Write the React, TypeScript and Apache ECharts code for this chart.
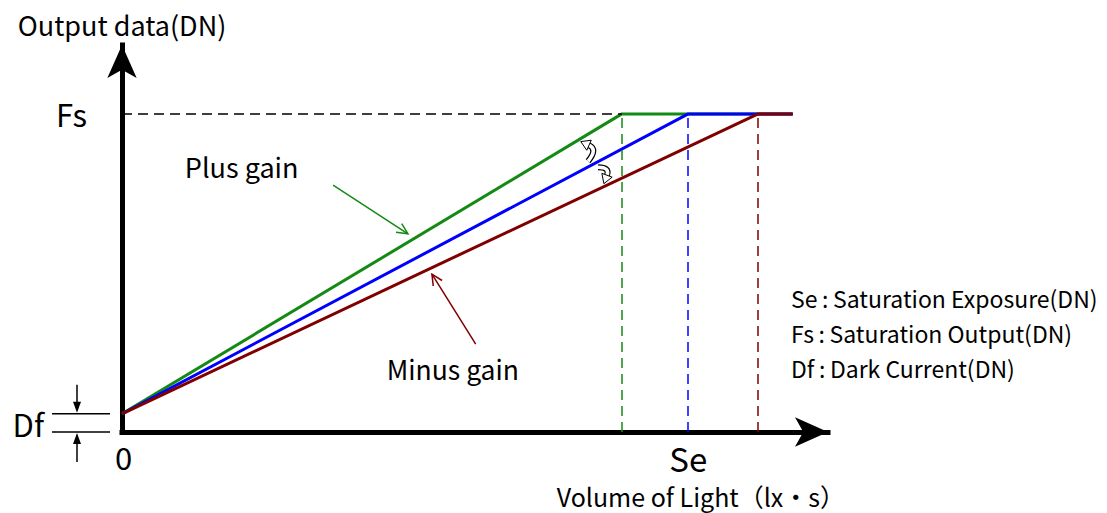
import React, { useEffect, useRef } from "react";
import * as echarts from "echarts";

// ---- data ----
const X_MAX = 100;
const Y_MAX = 100;
const DARK_CURRENT = 4.7; // Df
const SATURATION_OUTPUT = 82.2; // Fs
const GAIN_NAMES = ["Plus gain", "Normal gain", "Minus gain"];
const GAIN_COLORS = ["#138a13", "#0000ff", "#800000"];
const SATURATION_EXPOSURE = [70.8, 80.2, 90.1];
const X_END = 95.0;
const X_TICK_VALUES = [0, 80.2];
const X_TICK_LABELS = ["0", "Se"];
const Y_TICK_VALUES = [DARK_CURRENT, SATURATION_OUTPUT];
const Y_TICK_LABELS = ["Df", "Fs"];
const NOTES = [
  "Se\u2009:\u2009Saturation Exposure(DN)",
  "Fs\u2009:\u2009Saturation Output(DN)",
  "Df\u2009:\u2009Dark Current(DN)",
];

const FONT = '"Noto Sans CJK JP", "Noto Sans", sans-serif';

export default function App() {
  const ref = useRef<HTMLDivElement>(null);
  useEffect(() => {
    const el = ref.current!;
    const chart = echarts.init(el, null, { renderer: "svg" });

    const series = GAIN_NAMES.map((name, i) => {
      const se = SATURATION_EXPOSURE[i];
      const ml: any[] = [[{ coord: [se, 0] }, { coord: [se, SATURATION_OUTPUT] }]];
      if (i === 0) {
        ml.push([
          { coord: [0, SATURATION_OUTPUT], lineStyle: { color: "#000", type: [10, 6], width: 1.5 } },
          { coord: [se, SATURATION_OUTPUT] },
        ]);
      }
      return {
        name,
        type: "line",
        symbol: "none",
        silent: true,
        z: 3 + i,
        data: [
          [0, DARK_CURRENT],
          [se, SATURATION_OUTPUT],
          [X_END, SATURATION_OUTPUT],
        ],
        lineStyle: { color: GAIN_COLORS[i], width: 3 },
        itemStyle: { color: GAIN_COLORS[i] },
        markLine: {
          silent: true,
          symbol: "none",
          animation: false,
          label: { show: false },
          lineStyle: { color: GAIN_COLORS[i], type: [10, 6], width: 1.5 },
          data: ml,
        },
      };
    });

    chart.setOption({
      animation: false,
      grid: { left: 122, top: 45, width: 706, height: 387 },
      xAxis: {
        type: "value",
        min: 0,
        max: X_MAX,
        splitLine: { show: false },
        axisTick: { show: false },
        axisLine: {
          show: true,
          symbol: ["none", "arrow"],
          symbolSize: [22, 33],
          lineStyle: { color: "#000", width: 5, cap: "square" },
        },
        axisLabel: {
          customValues: X_TICK_VALUES,
          margin: 9,
          color: "#000",
          formatter: (v: number) => {
            const idx = X_TICK_VALUES.indexOf(v);
            const t = idx >= 0 ? X_TICK_LABELS[idx] : "";
            return idx === 0 ? `{a|${t}}` : `{b|${t}}`;
          },
          rich: {
            a: { fontSize: 31, fontFamily: FONT, color: "#000", padding: [0, 0, 0, 3] },
            b: { fontSize: 33, fontFamily: FONT, color: "#000" },
          },
        },
        name: "Volume of Light（lx・s）",
        nameLocation: "end",
        nameGap: 17,
        nameTextStyle: {
          fontSize: 25,
          fontFamily: FONT,
          color: "#000",
          align: "right",
          verticalAlign: "top",
          padding: [51, 0, 0, 0],
        },
      },
      yAxis: {
        type: "value",
        min: 0,
        max: Y_MAX,
        splitLine: { show: false },
        axisTick: { show: false },
        axisLine: {
          show: true,
          symbol: ["none", "arrow"],
          symbolSize: [22, 33],
          lineStyle: { color: "#000", width: 5, cap: "square" },
        },
        axisLabel: {
          customValues: Y_TICK_VALUES,
          margin: 35,
          color: "#000",
          formatter: (v: number) => {
            const idx = Y_TICK_VALUES.indexOf(v);
            const t = idx >= 0 ? Y_TICK_LABELS[idx] : "";
            return idx === 0 ? `{d|${t}}` : `{f|${t}}`;
          },
          rich: {
            d: { fontSize: 31, fontFamily: FONT, color: "#000", padding: [19, 43, 0, 0] },
            f: { fontSize: 31, fontFamily: FONT, color: "#000" },
          },
        },
        name: "Output data(DN)",
        nameLocation: "end",
        nameGap: 7,
        nameTextStyle: { fontSize: 27, fontFamily: FONT, color: "#000" },
      },
      series,
    });

    const p = (x: number, y: number) => chart.convertToPixel({ gridIndex: 0 }, [x, y]) as number[];
    const g: any[] = [];

    // Df marker
    const yDf = p(0, DARK_CURRENT)[1];
    const y0 = p(0, 0)[1];
    const mx = 77;
    g.push({ type: "line", shape: { x1: 52, y1: yDf, x2: 110, y2: yDf }, style: { stroke: "#000", lineWidth: 1.5 } });
    g.push({ type: "line", shape: { x1: 52, y1: y0, x2: 110, y2: y0 }, style: { stroke: "#000", lineWidth: 1.5 } });
    g.push({ type: "line", shape: { x1: mx, y1: yDf - 29, x2: mx, y2: yDf - 8 }, style: { stroke: "#000", lineWidth: 1.5 } });
    g.push({ type: "polygon", shape: { points: [[mx - 4, yDf - 12], [mx + 4, yDf - 12], [mx, yDf - 1]] }, style: { fill: "#000" } });
    g.push({ type: "line", shape: { x1: mx, y1: y0 + 30, x2: mx, y2: y0 + 8 }, style: { stroke: "#000", lineWidth: 1.5 } });
    g.push({ type: "polygon", shape: { points: [[mx - 4, y0 + 12], [mx + 4, y0 + 12], [mx, y0 + 1]] }, style: { fill: "#000" } });

    // annotation arrows (data coordinates)
    const arrow = (from: number[], to: number[], color: string) => {
      const a = p(from[0], from[1]);
      const b = p(to[0], to[1]);
      const ang = Math.atan2(b[1] - a[1], b[0] - a[0]);
      const L = 12;
      const w1 = [b[0] - L * Math.cos(ang - 0.45), b[1] - L * Math.sin(ang - 0.45)];
      const w2 = [b[0] - L * Math.cos(ang + 0.45), b[1] - L * Math.sin(ang + 0.45)];
      g.push({ type: "line", shape: { x1: a[0], y1: a[1], x2: b[0], y2: b[1] }, style: { stroke: color, lineWidth: 1.5 } });
      g.push({ type: "polyline", shape: { points: [w1, b, w2] }, style: { stroke: color, lineWidth: 1.5, fill: null } });
    };
    arrow([29.9, 63.8], [40.5, 51.2], GAIN_COLORS[0]);
    arrow([50.1, 22.7], [43.9, 40.8], GAIN_COLORS[2]);

    const plusPos = p(8.9, 68.5);
    const minusPos = p(37.5, 16.5);
    g.push({ type: "text", x: plusPos[0], y: plusPos[1], style: { text: "Plus gain", fontSize: 27, fontFamily: FONT, fill: "#000", align: "left", verticalAlign: "middle" } });
    g.push({ type: "text", x: minusPos[0], y: minusPos[1], style: { text: "Minus gain", fontSize: 26.5, fontFamily: FONT, fill: "#000", align: "left", verticalAlign: "middle" } });

    // curved gain-change arrows near the blue line (outlined, white inside)
    const seB = SATURATION_EXPOSURE[1];
    const ax = 67.0;
    const A = p(ax, DARK_CURRENT + ((SATURATION_OUTPUT - DARK_CURRENT) * ax) / seB);
    const curved = (t: number[], c: number[], h: number[]) => {
      const P = (q: number[]) => [A[0] + q[0], A[1] + q[1]];
      const T = P(t), C = P(c), H = P(h);
      const dx = h[0] - c[0], dy = h[1] - c[1];
      const n = Math.hypot(dx, dy);
      const ux = dx / n, uy = dy / n;
      const tip = [H[0] + ux * 9, H[1] + uy * 9];
      const b1 = [H[0] - uy * 5.5, H[1] + ux * 5.5];
      const b2 = [H[0] + uy * 5.5, H[1] - ux * 5.5];
      const shape = { x1: T[0], y1: T[1], cpx1: C[0], cpy1: C[1], x2: H[0], y2: H[1] };
      g.push({ type: "bezierCurve", shape, style: { stroke: "#000", lineWidth: 6, fill: null } });
      g.push({ type: "bezierCurve", shape, style: { stroke: "#fff", lineWidth: 3.6, fill: null } });
      g.push({ type: "polygon", shape: { points: [b1, tip, b2] }, style: { fill: "#fff", stroke: "#000", lineWidth: 1 } });
    };
    // upper arrow (towards plus gain)
    curved([-7, -2], [3, -14], [-6, -18]);
    // lower arrow (towards minus gain)
    curved([3, 4], [15, 4], [12, 12]);

    // notes
    NOTES.forEach((t, i) => {
      g.push({ type: "text", x: 791, y: 298 + i * 35, style: { text: t, fontSize: 23, fontFamily: FONT, fill: "#000", align: "left", verticalAlign: "middle" } });
    });

    chart.setOption({ graphic: g });

    return () => chart.dispose();
  }, []);

  return <div ref={ref} style={{ position: "fixed", left: 0, top: 0, width: 1107, height: 513, background: "#fff" }} />;
}
